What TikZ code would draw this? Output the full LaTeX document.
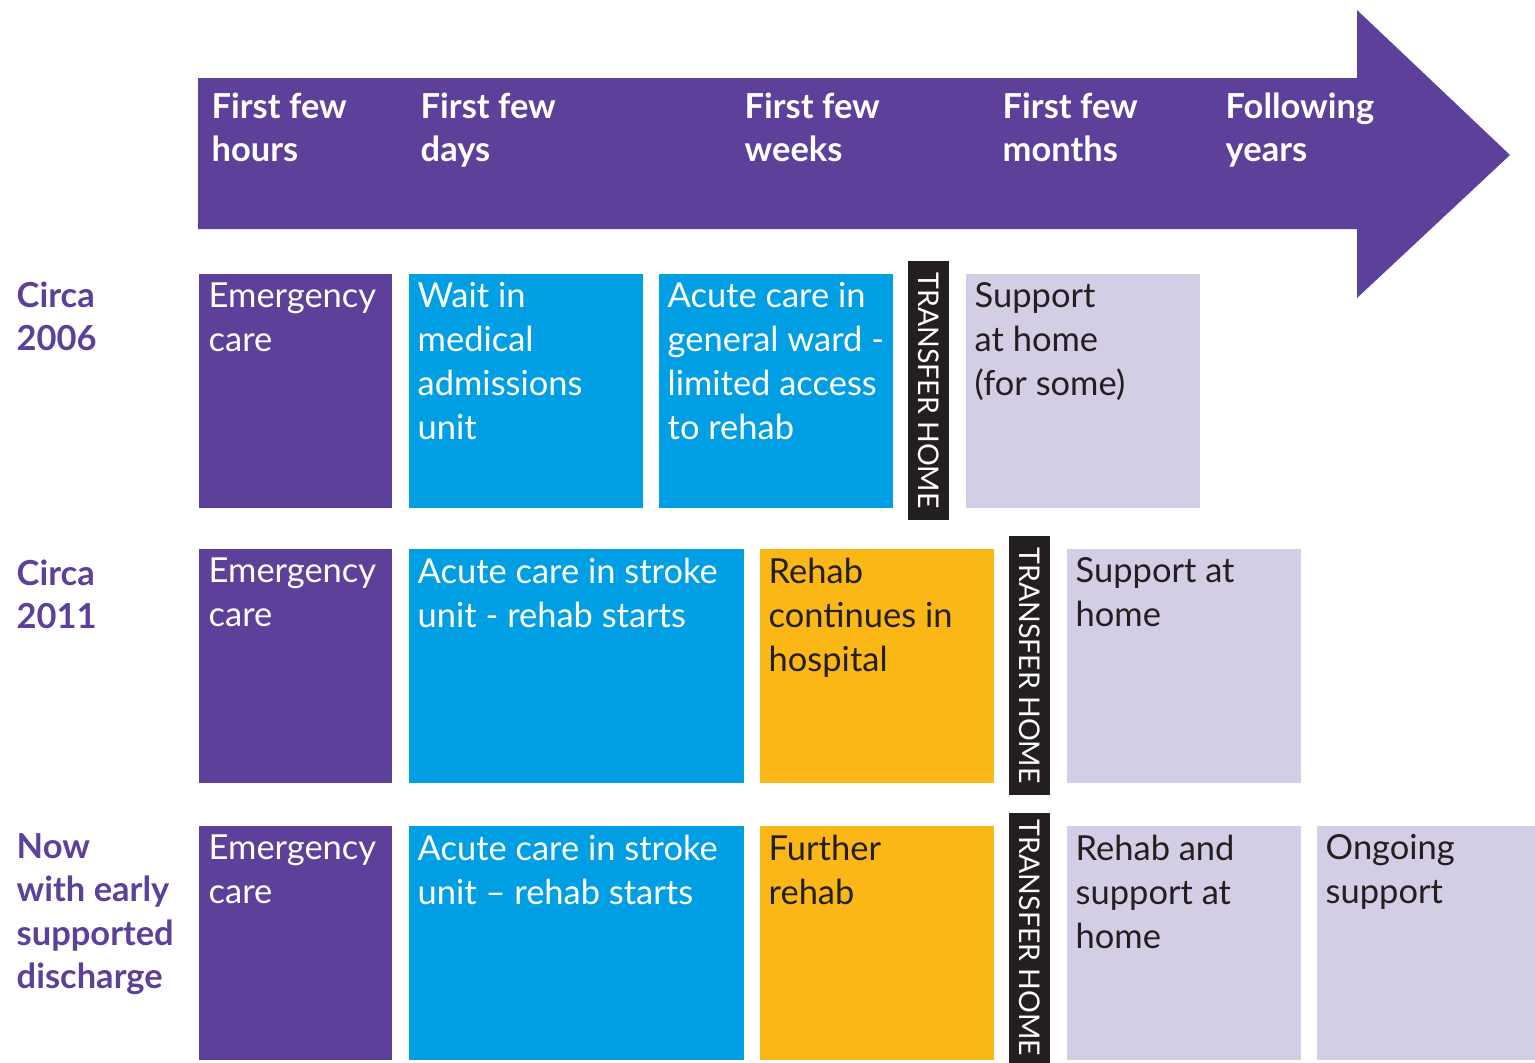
\documentclass[tikz,border=0pt]{standalone}
\usepackage{fontspec}
\setmainfont{Lato}
\usetikzlibrary{positioning}

\definecolor{pathpurple}{HTML}{5C4099}
\definecolor{wardblue}{HTML}{009FE3}
\definecolor{rehabamber}{HTML}{FBB715}
\definecolor{homelilac}{HTML}{D3CDE6}
\definecolor{barblack}{HTML}{231F20}

\tikzset{
  tile/.style={anchor=north west, inner sep=0pt, minimum height=2.34cm},
  tiletext/.style={anchor=north west, align=left, inner sep=0pt,
    font=\fontsize{9.8}{12.5}\selectfont},
  headtext/.style={tiletext, text=white, font=\fontsize{9.8}{12.3}\selectfont\bfseries},
  rowtext/.style={tiletext, text=pathpurple, font=\fontsize{9.8}{12.3}\selectfont\bfseries},
  transfer/.style={rotate=-90, fill=barblack, text=white, inner sep=0pt,
    minimum width=2.59cm, minimum height=0.41cm, font=\fontsize{8.1}{10}\selectfont},
}

\begin{document}
\begin{tikzpicture}[x=0.01cm, y=-0.01cm]
  \useasboundingbox (0,0) rectangle (1535,1063);

  % time arrow
  \fill[pathpurple] (198,78) -- (1357,78) -- (1357,10) -- (1510,155)
    -- (1357,298) -- (1357,229) -- (198,229) -- cycle;
  \node[headtext] (hours)  at (211,92)  {First few\\hours};
  \node[headtext] (days)   at (420,92)  {First few\\days};
  \node[headtext] (weeks)  at (744,92)  {First few\\weeks};
  \node[headtext] (months) at (1002,92) {First few\\months};
  \node[headtext] (years)  at (1225,92) {Following\\years};

  % circa 2006
  \node[rowtext] (r06) at (16,281) {Circa\\2006};
  \node[tile, fill=pathpurple, minimum width=1.93cm] (emerg06) at (198,273) {};
  \node[tiletext, text=white] at ([xshift=0.1cm, yshift=-0.09cm]emerg06.north west) {Emergency\\care};
  \node[tile, fill=wardblue, minimum width=2.34cm] (wait06) at (408,273) {};
  \node[tiletext, text=white] at ([xshift=0.09cm, yshift=-0.09cm]wait06.north west) {Wait in\\medical\\admissions\\unit};
  \node[tile, fill=wardblue, minimum width=2.34cm] (acute06) at (658,273) {};
  \node[tiletext, text=white] at ([xshift=0.09cm, yshift=-0.09cm]acute06.north west) {Acute care in\\general ward -\\limited access\\to rehab};
  \node[transfer] (home06) at (928.5,390.5) {TRANSFER HOME};
  \node[tile, fill=homelilac, minimum width=2.34cm] (supp06) at (965,273) {};
  \node[tiletext, text=barblack] at ([xshift=0.09cm, yshift=-0.09cm]supp06.north west) {Support\\at home\\(for some)};

  % circa 2011
  \node[rowtext] (r11) at (16,559) {Circa\\2011};
  \node[tile, fill=pathpurple, minimum width=1.93cm] (emerg11) at (198,548) {};
  \node[tiletext, text=white] at ([xshift=0.1cm, yshift=-0.09cm]emerg11.north west) {Emergency\\care};
  \node[tile, fill=wardblue, minimum width=3.35cm] (acute11) at (408,548) {};
  \node[tiletext, text=white] at ([xshift=0.09cm, yshift=-0.09cm]acute11.north west) {Acute care in stroke\\unit - rehab starts};
  \node[tile, fill=rehabamber, minimum width=2.34cm] (rehab11) at (759,548) {};
  \node[tiletext, text=barblack] at ([xshift=0.09cm, yshift=-0.09cm]rehab11.north west) {Rehab\\continues in\\hospital};
  \node[transfer] (home11) at (1029.5,665.5) {TRANSFER HOME};
  \node[tile, fill=homelilac, minimum width=2.34cm] (supp11) at (1066,548) {};
  \node[tiletext, text=barblack] at ([xshift=0.09cm, yshift=-0.09cm]supp11.north west) {Support at\\home};

  % now, with early supported discharge
  \node[rowtext] (rnow) at (16,833) {Now\\with early\\supported\\discharge};
  \node[tile, fill=pathpurple, minimum width=1.93cm] (emergnow) at (198,825) {};
  \node[tiletext, text=white] at ([xshift=0.1cm, yshift=-0.09cm]emergnow.north west) {Emergency\\care};
  \node[tile, fill=wardblue, minimum width=3.35cm] (acutenow) at (408,825) {};
  \node[tiletext, text=white] at ([xshift=0.09cm, yshift=-0.09cm]acutenow.north west) {Acute care in stroke\\unit -- rehab starts};
  \node[tile, fill=rehabamber, minimum width=2.34cm] (rehabnow) at (759,825) {};
  \node[tiletext, text=barblack] at ([xshift=0.09cm, yshift=-0.09cm]rehabnow.north west) {Further\\rehab};
  \node[transfer, minimum width=2.5cm] (homenow) at (1029.5,938) {TRANSFER HOME};
  \node[tile, fill=homelilac, minimum width=2.34cm] (suppnow) at (1066,825) {};
  \node[tiletext, text=barblack] at ([xshift=0.09cm, yshift=-0.09cm]suppnow.north west) {Rehab and\\support at\\home};
  \node[tile, fill=homelilac, minimum width=2.19cm] (ongoing) at (1316,825) {};
  \node[tiletext, text=barblack] at ([xshift=0.09cm, yshift=-0.09cm]ongoing.north west) {Ongoing\\support};
\end{tikzpicture}
\end{document}
